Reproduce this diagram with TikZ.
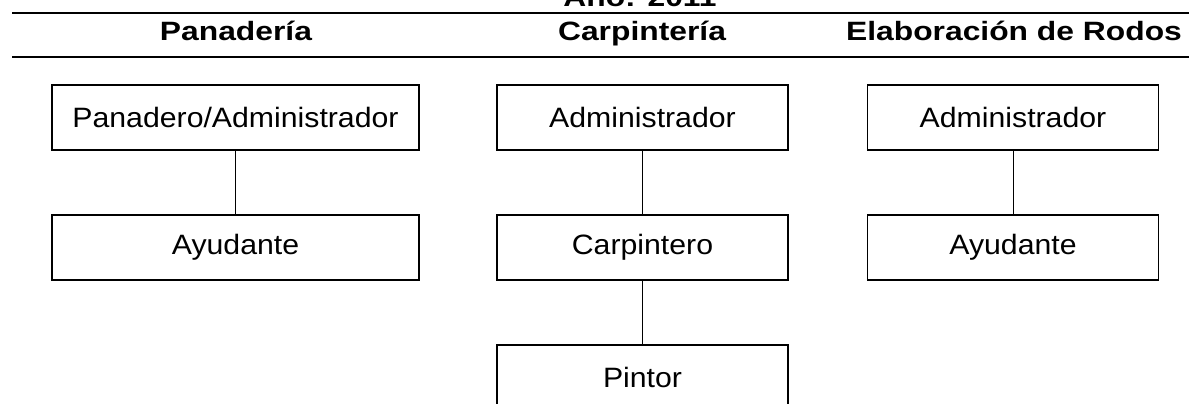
\documentclass[tikz,border=0pt]{standalone}
\usepackage{fontspec}
\setmainfont{Liberation Sans}[FakeStretch=1.08]
\newfontfamily\headfont{Liberation Sans}[FakeStretch=1.2]
\usetikzlibrary{positioning}

\begin{document}
\begin{tikzpicture}[x=1pt,y=1pt,yscale=-1,xscale=1,
  puesto/.style={draw,line width=1.4pt,minimum height=65pt,minimum width=291pt,inner sep=0pt,
    font=\fontsize{28}{32}\selectfont},
  titulo/.style={anchor=base,inner sep=0pt,font=\headfont\bfseries\fontsize{26.5}{31}\selectfont},
  regla/.style={line width=2pt}]
\useasboundingbox (0,0) rectangle (1189,404);
\clip (0,0) rectangle (1189,404);

%Header
\node[titulo] (anio) at (640,7) {Año: 2011};
\draw[regla] (12,13) -- (1189,13);
\node[titulo] (tpan) at (236,41) {Panadería};
\node[titulo] (tcarp) at (642,41) {Carpintería};
\node[titulo] (trod) at (1014,41) {Elaboración de Rodos};
\draw[regla] (12,57) -- (1189,57);

%Panaderia
\node[puesto,minimum width=367pt] (panadm) at (235.5,117.5) {Panadero/Administrador};
\node[puesto,minimum width=367pt] (panayu) at (235.5,247.5) {Ayudante};
%Carpinteria
\node[puesto] (carpadm) at (642.5,117.5) {Administrador};
\node[puesto] (carpcar) at (642.5,247.5) {Carpintero};
\node[puesto] (carppin) at (642.5,377.5) {Pintor};
%Rodos
\node[puesto] (rodadm) at (1013,117.5) {Administrador};
\node[puesto] (rodayu) at (1013,247.5) {Ayudante};

%Lines
\draw (panadm.south) -- (panayu.north);
\draw (carpadm.south) -- (carpcar.north);
\draw (carpcar.south) -- (carppin.north);
\draw (rodadm.south) -- (rodayu.north);

\end{tikzpicture}
\end{document}
